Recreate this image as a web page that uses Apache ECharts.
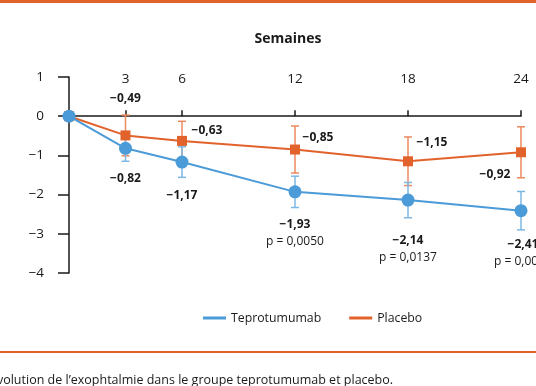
<!DOCTYPE html>
<html><head><meta charset="utf-8">
<script src="https://cdn.jsdelivr.net/npm/echarts@6/dist/echarts.min.js"></script>
<style>html,body{margin:0;padding:0;background:#fff}#c{width:536px;height:386px}</style>
</head><body><div id="c"></div>
<script>
const weeks = [0, 3, 6, 12, 18, 24];
const tickWeeks = [3, 6, 12, 18, 24];
const teproValues = [0, -0.82, -1.17, -1.93, -2.14, -2.41];
const placeboValues = [0, -0.49, -0.63, -0.85, -1.15, -0.92];
const teproErr = [0, 0.33, 0.39, 0.40, 0.45, 0.49];
const placeboErr = [0, 0.52, 0.50, 0.60, 0.62, 0.65];
const pValues = ['', '', '', 'p = 0,0050', 'p = 0,0137', 'p = 0,0006'];
const yTicks = [1, 0, -1, -2, -3, -4];

const BLUE = '#4b9bd8', ORANGE = '#e2622b';
const BLUE_ERR = '#7db7e4', ORANGE_ERR = '#ec8a5f';
const FONT = 'Open Sans';
const INK = '#1a1a1a';

function fmt(v) { return (v < 0 ? '\u2212' : '') + Math.abs(v).toFixed(2).replace('.', ','); }

const placeboOffsets = [null, [0, -37], [25, -10], [23, -12], [24, -19], [-26, 22]];
const teproOffsets = [null, [0, 30], [0, 34], [0, 41], [0, 49], [2, 42]];

const placeboData = weeks.map((w, i) => ({
  value: [w, placeboValues[i]],
  label: placeboOffsets[i] ? { show: true, position: 'inside', offset: placeboOffsets[i],
    formatter: () => fmt(placeboValues[i]) } : { show: false }
}));
const teproData = weeks.map((w, i) => ({
  value: [w, teproValues[i]],
  label: teproOffsets[i] ? { show: true, position: 'inside', offset: teproOffsets[i],
    formatter: () => pValues[i] ? '{b|' + fmt(teproValues[i]) + '}\n{p|' + pValues[i] + '}' : '{b|' + fmt(teproValues[i]) + '}' } : { show: false }
}));

function errSeries(vals, errs, color, z) {
  return {
    type: 'custom', z: z, silent: true,
    data: weeks.map((w, i) => [w, vals[i] - errs[i], vals[i] + errs[i]]).filter((d, i) => errs[i] > 0),
    renderItem: (params, api) => {
      const lo = api.coord([api.value(0), api.value(1)]);
      const hi = api.coord([api.value(0), api.value(2)]);
      const cw = 4;
      const st = { stroke: color, lineWidth: 1.5 };
      return { type: 'group', children: [
        { type: 'line', shape: { x1: lo[0], y1: lo[1], x2: hi[0], y2: hi[1] }, style: st },
        { type: 'line', shape: { x1: lo[0] - cw, y1: lo[1], x2: lo[0] + cw, y2: lo[1] }, style: st },
        { type: 'line', shape: { x1: hi[0] - cw, y1: hi[1], x2: hi[0] + cw, y2: hi[1] }, style: st }
      ]};
    }
  };
}

const chart = echarts.init(document.getElementById('c'), null, { renderer: 'canvas' });
chart.setOption({
  animation: false,
  textStyle: { fontFamily: FONT },
  title: [
    { text: 'Semaines', left: 283, top: 27, textAlign: 'center',
      textStyle: { fontFamily: FONT, fontSize: 14, fontWeight: 'bold', color: INK } },
    { text: '\u00c9volution de l\u2019exophtalmie dans le groupe teprotumumab et placebo.', left: -15, top: 369,
      textStyle: { fontFamily: FONT, fontSize: 12.5, fontWeight: 'normal', color: INK } }
  ],
  graphic: [
    { type: 'rect', shape: { x: 0, y: 0, width: 536, height: 3 }, style: { fill: ORANGE } },
    { type: 'rect', shape: { x: 0, y: 351, width: 536, height: 2 }, style: { fill: ORANGE } }
  ],
  legend: {
    left: 198, top: 307, itemWidth: 23, itemHeight: 3, icon: 'rect', itemGap: 28,
    textStyle: { fontFamily: FONT, fontSize: 12.3, color: INK },
    data: [{ name: 'Teprotumumab', itemStyle: { color: BLUE } }, { name: 'Placebo', itemStyle: { color: ORANGE } }]
  },
  grid: { left: 69, right: 15, top: 77, bottom: 113, containLabel: false },
  xAxis: [
    { type: 'value', min: 0, max: 24, position: 'bottom',
      axisLine: { onZero: true, lineStyle: { color: INK, width: 1.5 } },
      axisTick: { show: true, inside: true, length: 6, customValues: tickWeeks, lineStyle: { color: INK, width: 1.5 } },
      axisLabel: { show: false }, splitLine: { show: false } },
    { type: 'value', min: 0, max: 24, position: 'top', offset: -11,
      axisLine: { show: false, onZero: false }, axisTick: { show: false },
      axisLabel: { show: true, customValues: tickWeeks, margin: 2, fontSize: 13.5, color: INK, fontFamily: FONT },
      splitLine: { show: false } }
  ],
  yAxis: {
    type: 'value', min: -4, max: 1, interval: 1,
    axisLine: { show: true, onZero: false, lineStyle: { color: INK, width: 1.5 } },
    axisTick: { show: true, length: 11, lineStyle: { color: INK, width: 1.5 } },
    axisLabel: { fontSize: 13.5, color: INK, margin: 25, fontFamily: FONT,
      formatter: v => (v < 0 ? '\u2212' : '') + Math.abs(v) },
    splitLine: { show: false }
  },
  series: [
    errSeries(placeboValues, placeboErr, ORANGE_ERR, 2),
    errSeries(teproValues, teproErr, BLUE_ERR, 2),
    { name: 'Placebo', type: 'line', z: 3, data: placeboData, symbol: 'rect', symbolSize: 10,
      lineStyle: { color: ORANGE, width: 2 }, itemStyle: { color: ORANGE },
      label: { fontSize: 12, fontWeight: 'bold', color: INK, fontFamily: FONT } },
    { name: 'Teprotumumab', type: 'line', z: 4, data: teproData, symbol: 'circle', symbolSize: 13,
      lineStyle: { color: BLUE, width: 2 }, itemStyle: { color: BLUE },
      label: { fontFamily: FONT, lineHeight: 17,
        rich: { b: { fontSize: 12, fontWeight: 'bold', color: INK, fontFamily: FONT, lineHeight: 17 },
                p: { fontSize: 12, color: INK, fontFamily: FONT, lineHeight: 17 } } } }
  ]
});
</script></body></html>
